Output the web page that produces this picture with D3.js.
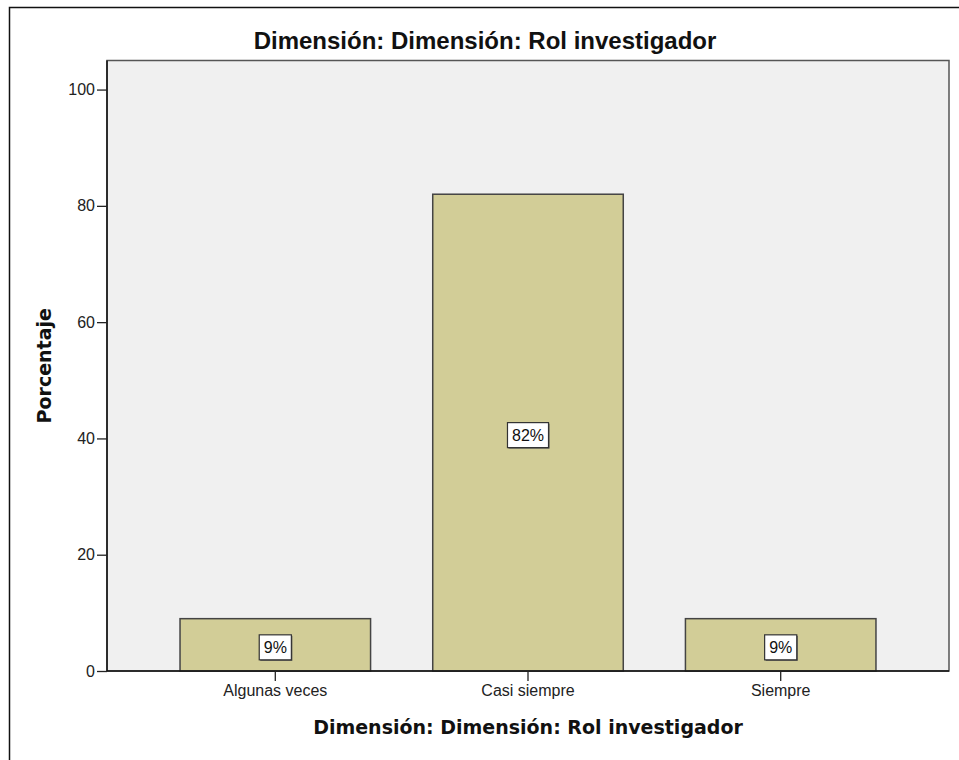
<!DOCTYPE html>
<html>
<head>
<meta charset="utf-8">
<script src="https://cdn.jsdelivr.net/npm/d3@7/dist/d3.min.js"></script>
<style>
  html, body { margin: 0; padding: 0; background: #ffffff; }
  svg { display: block; }
</style>
</head>
<body>
<svg id="chart" width="959" height="760"></svg>
<script>
// Frequency chart for the "Rol investigador" dimension
const categories = ["Algunas veces", "Casi siempre", "Siempre"];
const percentages = [9, 82, 9];
const yTicks = [0, 20, 40, 60, 80, 100];
const chartTitle = "Dimensión: Dimensión: Rol investigador";
const xTitle = "Dimensión: Dimensión: Rol investigador";
const yTitle = "Porcentaje";

const svg = d3.select("#chart");
const W = 959, H = 760;
const plot = { left: 107, right: 949, top: 60.5, bottom: 671 };

// outer frame (only left and top edges fall inside the view)
svg.append("rect")
  .attr("x", 9.5).attr("y", 7.5)
  .attr("width", W + 10).attr("height", H + 10)
  .attr("fill", "#ffffff")
  .attr("stroke", "#111").attr("stroke-width", 1.5);

const x = d3.scaleBand()
  .domain(categories)
  .range([plot.left, plot.right])
  .paddingInner(0.246)
  .paddingOuter(0.289);

const y = d3.scaleLinear()
  .domain([0, 105])
  .range([plot.bottom, plot.top]);

// plot background
svg.append("rect")
  .attr("x", plot.left).attr("y", plot.top)
  .attr("width", plot.right - plot.left)
  .attr("height", plot.bottom - plot.top)
  .attr("fill", "#f0f0f0")
  .attr("stroke", "#555").attr("stroke-width", 1.5);

// bars
svg.append("g").selectAll("rect")
  .data(categories)
  .join("rect")
  .attr("x", d => x(d))
  .attr("y", (d, i) => y(percentages[i]))
  .attr("width", x.bandwidth())
  .attr("height", (d, i) => y(0) - y(percentages[i]))
  .attr("fill", "#d2cd97")
  .attr("stroke", "#444")
  .attr("stroke-width", 1.5);

// value labels in boxes
const fmt = v => d3.format(".0f")(v) + "%";
const labels = svg.append("g").selectAll("g")
  .data(categories)
  .join("g")
  .attr("transform", (d, i) => `translate(${x(d) + x.bandwidth() / 2},${y(percentages[i] / 2) + 2.5})`);

labels.each(function (d, i) {
  const g = d3.select(this);
  const t = g.append("text")
    .attr("text-anchor", "middle")
    .attr("dy", "0.36em")
    .attr("font-family", "'Liberation Sans', Arial, sans-serif")
    .attr("font-size", 16)
    .attr("fill", "#111")
    .text(fmt(percentages[i]));
  const bw = t.node().getComputedTextLength() + 9;
  const bh = 25;
  // drop shadow edge
  g.insert("rect", "text")
    .attr("x", -bw / 2 + 1).attr("y", -bh / 2 + 1)
    .attr("width", bw).attr("height", bh)
    .attr("fill", "#555");
  g.insert("rect", "text")
    .attr("x", -bw / 2).attr("y", -bh / 2)
    .attr("width", bw).attr("height", bh)
    .attr("fill", "#ffffff")
    .attr("stroke", "#333").attr("stroke-width", 1.2);
});

// axes
const xAxis = svg.append("g")
  .attr("transform", `translate(0,${plot.bottom})`)
  .call(d3.axisBottom(x).tickSize(10).tickSizeOuter(0).tickPadding(4));
const yAxis = svg.append("g")
  .attr("transform", `translate(${plot.left},0)`)
  .call(d3.axisLeft(y).tickValues(yTicks).tickSize(10).tickSizeOuter(0).tickPadding(2));

[xAxis, yAxis].forEach(a => {
  a.select(".domain").attr("stroke", "#111").attr("stroke-width", 1.5);
  a.selectAll(".tick line").attr("stroke", "#222").attr("stroke-width", 1.3);
  a.selectAll(".tick text")
    .attr("font-family", "'Liberation Sans', Arial, sans-serif")
    .attr("font-size", 16)
    .attr("fill", "#222");
});
yAxis.select(".domain").attr("d", `M0,${plot.bottom}V${plot.top}`);
xAxis.select(".domain").attr("d", `M${plot.left},0H${plot.right}`);

// titles
svg.append("text")
  .attr("x", 485).attr("y", 49)
  .attr("text-anchor", "middle")
  .attr("font-family", "'Liberation Sans', Arial, sans-serif")
  .attr("font-weight", "bold")
  .attr("font-size", 24)
  .attr("fill", "#111")
  .text(chartTitle);

svg.append("text")
  .attr("x", (plot.left + plot.right) / 2).attr("y", 734)
  .attr("text-anchor", "middle")
  .attr("font-family", "'DejaVu Sans', Verdana, sans-serif")
  .attr("font-weight", "bold")
  .attr("font-size", 19)
  .attr("fill", "#111")
  .text(xTitle);

svg.append("text")
  .attr("transform", `translate(51,${(plot.top + plot.bottom) / 2}) rotate(-90)`)
  .attr("text-anchor", "middle")
  .attr("font-family", "'DejaVu Sans', Verdana, sans-serif")
  .attr("font-weight", "bold")
  .attr("font-size", 19)
  .attr("fill", "#111")
  .text(yTitle);
</script>
</body>
</html>
